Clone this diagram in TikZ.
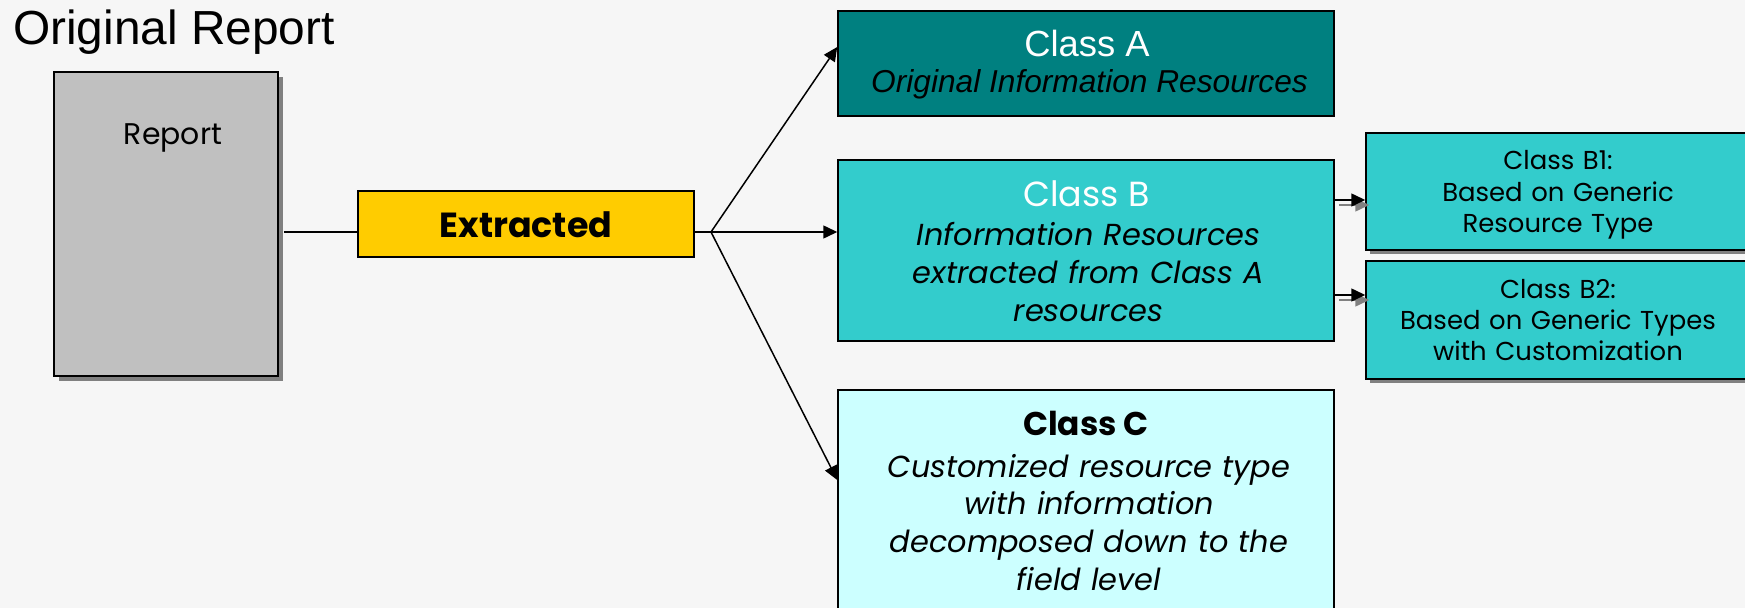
\documentclass[tikz,border=0pt]{standalone}
\usepackage{fontspec}
\setmainfont{Liberation Sans}
\newfontfamily\gothic{Poppins}
\usetikzlibrary{arrows.meta,shadows}
\definecolor{bgcol}{HTML}{F6F6F6}
\definecolor{repgray}{HTML}{C0C0C0}
\definecolor{shgray}{HTML}{808080}
\definecolor{gold}{HTML}{FFCC00}
\definecolor{tealA}{HTML}{008080}
\definecolor{tealB}{HTML}{33CCCC}
\definecolor{paleC}{HTML}{CCFFFF}
\tikzset{
  box/.style={draw=black, line width=1.5bp, inner sep=0pt},
  sh/.style={drop shadow={shadow xshift=#1, shadow yshift=-#1, fill=shgray, opacity=1}},
  link/.style={line width=1.5bp},
  conn/.style={line width=1.5bp, -{Triangle[length=14bp,width=13bp]}},
  connsh/.style={line width=1.5bp, draw=shgray, -{Triangle[length=14bp,width=13bp,fill=shgray]}},
  txt/.style={inner sep=0pt, align=center},
}
\begin{document}
\begin{tikzpicture}[x=1bp,y=-1bp]
\fill[bgcol] (0,0) rectangle (1745,608);
\useasboundingbox (0,0) rectangle (1745,608);

\node[txt, anchor=base west, font=\fontsize{48}{56}\selectfont] (title) at (13,45) {Original Report};

\node[box, fill=repgray, sh=5bp, minimum width=224bp, minimum height=304bp] (report) at (166,224) {};
\node[box, fill=gold, minimum width=336bp, minimum height=66bp] (extracted) at (526,224) {};
\node[box, fill=tealA, minimum width=496bp, minimum height=105bp] (classA) at (1086,63.5) {};
\node[box, fill=tealB, minimum width=496bp, minimum height=181bp] (classB) at (1086,250.5) {};
\node[box, fill=paleC, minimum width=496bp, minimum height=260bp] (classC) at (1086,520) {};
\node[box, fill=tealB, sh=4bp, minimum width=384bp, minimum height=117bp] (B1) at (1558,191.5) {};
\node[box, fill=tealB, sh=4bp, minimum width=384bp, minimum height=118bp] (B2) at (1558,320) {};

% connectors
\coordinate (fork) at (711,232);
\draw[link] ([xshift=5bp]report.east |- fork) -- (extracted.west |- fork);
\draw[link] (extracted.east |- fork) -- (fork);
\draw[conn] (fork) -- ([yshift=16.5bp]classA.west);
\draw[conn] (fork) -- (classB.west |- fork);
\draw[conn] (fork) -- ([yshift=40bp]classC.west);

\coordinate (b1in) at ([yshift=-8.5bp]B1.west);
\coordinate (b2in) at ([yshift=25bp]B2.west);
\begin{scope}[transform canvas={shift={(4bp,-5bp)}}]
\draw[connsh] (b1in -| classB.east) -- (b1in);
\draw[connsh] (b2in -| classB.east) -- (b2in);
\end{scope}
\draw[conn] (b1in -| classB.east) -- (b1in);
\draw[conn] (b2in -| classB.east) -- (b2in);

% texts
\node[txt, anchor=base, font=\gothic\fontsize{30}{36}\selectfont] (reportlbl) at (173,145) {Report};
\node[txt, anchor=base, font=\gothic\bfseries\fontsize{35}{42}\selectfont] (extractedlbl) at (526,238) {Extracted};

\node[txt, anchor=base, text=white, font=\fontsize{36.5}{44}\selectfont] (classAhead) at (1087,57) {Class A};
\node[txt, anchor=base, font=\itshape\fontsize{31.8}{38}\selectfont] (classAbody) at (1089.5,93) {Original Information Resources};

\node[txt, anchor=base, text=white, font=\gothic\fontsize{35}{40}\selectfont] (classBhead) at (1086.5,207) {Class B};
\node[txt, anchor=base, text width=460bp, font=\gothic\itshape\fontsize{30.5}{38}\selectfont] (classBbody) at (1088.5,246) {Information Resources\\ extracted from Class A\\ resources};

\node[txt, anchor=base, font=\gothic\bfseries\fontsize{33}{38}\selectfont] (classChead) at (1086,435) {Class C};
\node[txt, anchor=base, text width=480bp, font=\gothic\itshape\fontsize{30.5}{38}\selectfont] (classCbody) at (1089,477) {Customized resource type\\ with information\\ decomposed down to the\\ field level};

\node[txt, anchor=base, text width=380bp, font=\gothic\fontsize{26}{31.5}\selectfont] (B1lbl) at (1558,170) {Class B1:\\ Based on Generic\\ Resource Type};
\node[txt, anchor=base, text width=380bp, font=\gothic\fontsize{26}{31.5}\selectfont] (B2lbl) at (1558,298) {Class B2:\\ Based on Generic Types\\ with Customization};
\end{tikzpicture}
\end{document}
